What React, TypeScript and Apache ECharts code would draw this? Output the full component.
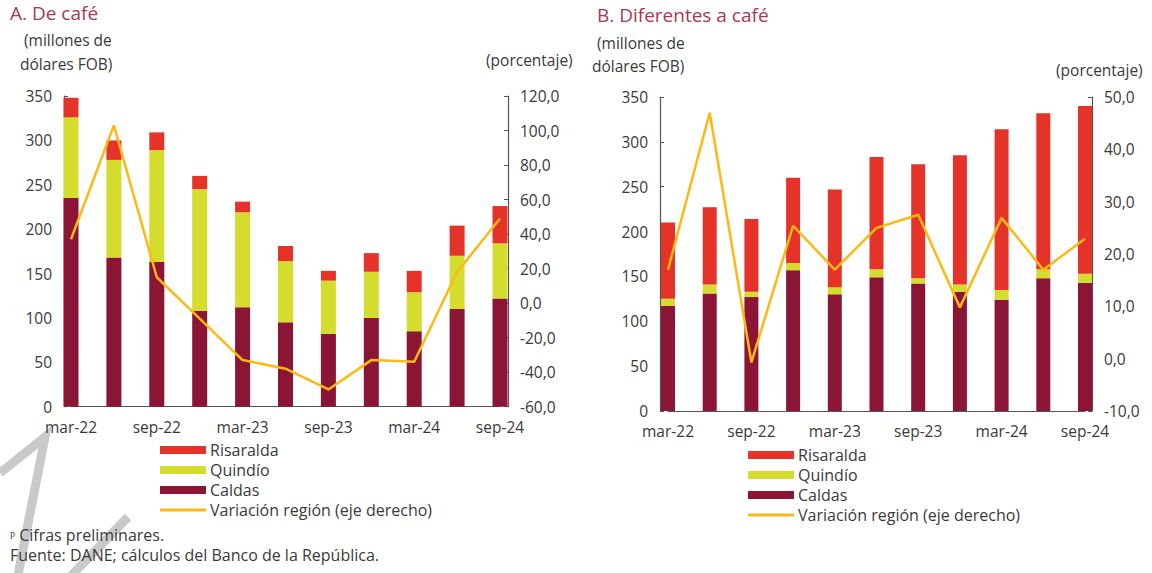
import React, { useEffect, useRef } from "react";
import * as echarts from "echarts";

const categories = ["mar-22", "jun-22", "sep-22", "dic-22", "mar-23", "jun-23", "sep-23", "dic-23", "mar-24", "jun-24", "sep-24"];

// A. De café (millones de dólares FOB)
const cafeCaldas = [235, 168, 163, 108, 112, 95, 82, 100, 85, 110, 122];
const cafeQuindio = [91, 110, 126, 137, 107, 69, 60, 52, 44, 60, 62];
const cafeRisaralda = [22, 22, 20, 15, 12, 17, 11, 21, 24, 34, 42];
const cafeVariacion = [37, 103, 15, -9, -33, -38, -50, -33, -34, 18, 49];

// B. Diferentes a café
const otrosCaldas = [117, 131, 127, 157, 130, 149, 142, 133, 124, 148, 143];
const otrosQuindio = [8, 10, 6, 8, 8, 9, 6, 8, 11, 10, 10];
const otrosRisaralda = [85, 86, 81, 95, 109, 125, 127, 144, 179, 174, 187];
const otrosVariacion = [17, 47, -0.7, 25.4, 17, 25, 27.5, 9.8, 26.9, 17, 22.9];

const seriesNames = ["Risaralda", "Quindío", "Caldas", "Variación región (eje derecho)"];

const C_RIS = "#e5332a";
const C_QUI = "#d4dc2e";
const C_CAL = "#8b1535";
const C_LINE = "#fdb913";
const TXT = "#3a3a3a";
const FONT = "Open Sans";

export default function App() {
  const ref = useRef<HTMLDivElement>(null);
  useEffect(() => {
    document.body.style.margin = "0";
    const chart = echarts.init(ref.current!, null, { renderer: "svg" });
    const pct = (v: number) => v.toFixed(1).replace(".", ",");
    const axisLine = { show: true, lineStyle: { color: "#555", width: 1.2 } };
    const yLabel = { color: TXT, fontSize: 15.5, fontFamily: FONT, margin: 12 };
    const mkX = (gi: number) => ({
      type: "category",
      gridIndex: gi,
      data: categories,
      boundaryGap: false,
      axisLine,
      axisTick: { show: true, inside: true, length: 4, interval: 1, lineStyle: { color: "#555" } },
      axisLabel: { interval: 1, color: TXT, fontSize: 15.5, fontFamily: FONT, margin: 12 },
    });
    const mkBars = (gi: number, cal: number[], qui: number[], ris: number[], bw: number) => [
      { name: "Caldas", data: cal, color: C_CAL },
      { name: "Quindío", data: qui, color: C_QUI },
      { name: "Risaralda", data: ris, color: C_RIS },
    ].map((s) => ({
      type: "bar",
      name: s.name,
      xAxisIndex: gi,
      yAxisIndex: gi * 2,
      stack: "s" + gi,
      data: s.data,
      barWidth: bw,
      clip: false,
      itemStyle: { color: s.color },
    }));
    const mkLine = (gi: number, d: number[]) => ({
      type: "line",
      name: "Variación región (eje derecho)",
      xAxisIndex: gi,
      yAxisIndex: gi * 2 + 1,
      data: d,
      symbol: "none",
      clip: false,
      z: 5,
      lineStyle: { color: C_LINE, width: 2.5 },
      itemStyle: { color: C_LINE },
    });
    const legendData = seriesNames.map((n) =>
      n.startsWith("Variación")
        ? { name: n, icon: "path://M0 0H46V3H0Z" }
        : { name: n, icon: "rect" }
    );
    const mkLegend = (left: number, top: number) => ({
      orient: "vertical",
      left,
      top,
      padding: 0,
      itemWidth: 46,
      itemHeight: 8,
      itemGap: 4,
      data: legendData,
      selectedMode: false,
      textStyle: { color: TXT, fontSize: 16, fontFamily: FONT, lineHeight: 16, padding: [0, 0, 0, -1] },
    });
    const txt = (x: number, y: number, s: string, extra: any = {}) => ({
      type: "text",
      x,
      y,
      style: { text: s, fill: TXT, fontSize: 15.5, fontFamily: FONT, ...extra },
    });
    const grey = (pts: number[][], w: number) => ({
      type: "polyline",
      shape: { points: pts },
      style: { stroke: "#c9c9c9", lineWidth: w, fill: null },
      z: -1,
    });
    chart.setOption({
      animation: false,
      backgroundColor: "#fff",
      grid: [
        { left: 71, right: 1152 - 500, top: 96, bottom: 573 - 406.7 },
        { left: 668, right: 1152 - 1085, top: 97, bottom: 573 - 411 },
      ],
      xAxis: [mkX(0), mkX(1)],
      yAxis: [
        { type: "value", gridIndex: 0, position: "left", offset: 7, min: 0, max: 350, interval: 50, axisLine, axisTick: { show: true, inside: true, length: 4 }, splitLine: { show: false }, axisLabel: yLabel },
        { type: "value", gridIndex: 0, position: "right", offset: 8, min: -60, max: 120, interval: 20, axisLine, axisTick: { show: true, inside: true, length: 4 }, splitLine: { show: false }, axisLabel: { ...yLabel, formatter: pct } },
        { type: "value", gridIndex: 1, position: "left", offset: 8, min: 0, max: 350, interval: 50, axisLine, axisTick: { show: true, inside: true, length: 4 }, splitLine: { show: false }, axisLabel: yLabel },
        { type: "value", gridIndex: 1, position: "right", offset: 7, min: -10, max: 50, interval: 10, axisLine, axisTick: { show: true, inside: true, length: 4 }, splitLine: { show: false }, axisLabel: { ...yLabel, formatter: pct } },
      ],
      legend: [mkLegend(160, 442), mkLegend(748, 447)],
      series: [
        ...mkBars(0, cafeCaldas, cafeQuindio, cafeRisaralda, 15),
        mkLine(0, cafeVariacion),
        ...mkBars(1, otrosCaldas, otrosQuindio, otrosRisaralda, 14),
        mkLine(1, otrosVariacion),
      ],
      graphic: [
        grey([[0, 473], [45, 437], [17, 580]], 9),
        grey([[128, 517], [67, 580]], 9),
        txt(10, 3, "A. De café", { fill: "#a8385a", fontSize: 19 }),
        txt(24, 32, "(millones de"),
        txt(20, 56, "dólares FOB)"),
        txt(486, 52, "(porcentaje)"),
        txt(597, 5, "B. Diferentes a café", { fill: "#a8385a", fontSize: 19 }),
        txt(597, 35, "(millones de"),
        txt(592, 58, "dólares FOB)"),
        txt(1056, 62, "(porcentaje)"),
        txt(10, 527, "ᵖ Cifras preliminares.", { fontSize: 16 }),
        txt(10, 547, "Fuente: DANE; cálculos del Banco de la República.", { fontSize: 16 }),
      ],
    });
    return () => chart.dispose();
  }, []);
  return <div ref={ref} style={{ width: 1152, height: 573 }} />;
}
